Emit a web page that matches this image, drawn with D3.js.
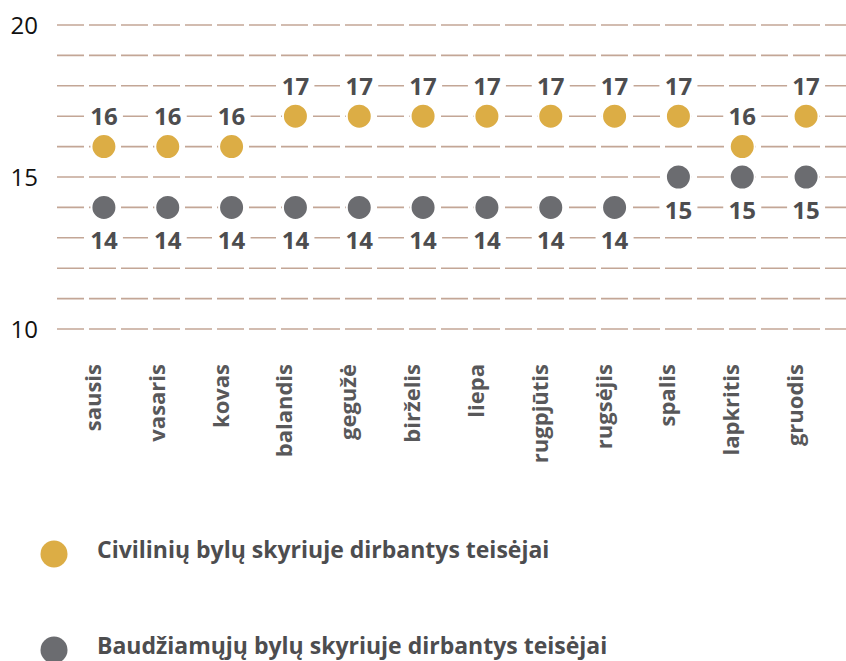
<!DOCTYPE html>
<html>
<head>
<meta charset="utf-8">
<script src="https://cdn.jsdelivr.net/npm/d3@7"></script>
<style>
  html, body { margin: 0; padding: 0; background: #fff; }
  svg { display: block; }
</style>
</head>
<body>
<div id="chart"></div>
<script>
const months = ['sausis', 'vasaris', 'kovas', 'balandis', 'gegužė', 'birželis',
  'liepa', 'rugpjūtis', 'rugsėjis', 'spalis', 'lapkritis', 'gruodis'];
const civil = [16, 16, 16, 17, 17, 17, 17, 17, 17, 17, 16, 17];
const criminal = [14, 14, 14, 14, 14, 14, 14, 14, 14, 15, 15, 15];
const yTicks = [10, 15, 20];
const seriesNames = ['Civilinių bylų skyriuje dirbantys teisėjai', 'Baudžiamųjų bylų skyriuje dirbantys teisėjai'];

const width = 846;
const height = 661;
const font = '"Open Sans", sans-serif';
const colors = ['#dcad45', '#6b6c70'];
const textColor = '#4d4d4f';

const svg = d3.select('#chart').append('svg')
  .attr('width', width)
  .attr('height', height);

const x = d3.scalePoint()
  .domain(months)
  .range([72, 838])
  .padding(0.5);

const y = d3.scaleLinear()
  .domain([10, 20])
  .range([329, 25]);

// dashed grid, one line per unit
svg.append('g')
  .selectAll('line')
  .data(d3.range(10, 21))
  .join('line')
    .attr('x1', 57)
    .attr('x2', width)
    .attr('y1', d => y(d))
    .attr('y2', d => y(d))
    .attr('stroke', '#c3a696')
    .attr('stroke-width', 1.6)
    .attr('stroke-dasharray', '27,5');

// y axis labels
svg.append('g')
  .selectAll('text')
  .data(yTicks)
  .join('text')
    .attr('x', 38)
    .attr('y', d => y(d))
    .attr('dy', '0.36em')
    .attr('text-anchor', 'end')
    .attr('font-family', font)
    .attr('font-size', 24)
    .attr('fill', '#111')
    .text(d => d);

// month labels
svg.append('g')
  .selectAll('text')
  .data(months)
  .join('text')
    .attr('transform', d => `translate(${x(d) - 3},364) rotate(-90)`)
    .attr('text-anchor', 'end')
    .attr('font-family', font)
    .attr('font-weight', 700)
    .attr('font-size', 22)
    .attr('fill', '#58585a')
    .text(d => d);

const series = [
  { values: civil, color: colors[0], offset: -30 },
  { values: criminal, color: colors[1], offset: 33 },
];

series.forEach(s => {
  const g = svg.append('g');
  const pts = months.map((m, i) => ({ m, v: s.values[i] }));

  g.selectAll('circle')
    .data(pts)
    .join('circle')
      .attr('cx', d => x(d.m))
      .attr('cy', d => y(d.v))
      .attr('r', 12.5)
      .attr('fill', s.color)
      .attr('stroke', '#fff')
      .attr('stroke-width', 2);

  const lbl = g.selectAll('g.lbl')
    .data(pts)
    .join('g')
      .attr('class', 'lbl')
      .attr('transform', d => `translate(${x(d.m)},${y(d.v) + s.offset})`);

  lbl.append('rect')
    .attr('x', -19)
    .attr('y', -10)
    .attr('width', 38)
    .attr('height', 20)
    .attr('fill', '#fff');

  lbl.append('text')
    .attr('text-anchor', 'middle')
    .attr('dy', '0.36em')
    .attr('font-family', font)
    .attr('font-weight', 700)
    .attr('font-size', 24)
    .attr('fill', textColor)
    .text(d => d.v);
});

// legend
const legend = svg.append('g')
  .selectAll('g')
  .data(seriesNames)
  .join('g')
    .attr('transform', (d, i) => `translate(0,${554 + i * 96})`);

legend.append('circle')
  .attr('cx', 54)
  .attr('cy', 0)
  .attr('r', 13.5)
  .attr('fill', (d, i) => colors[i]);

legend.append('text')
  .attr('x', 97)
  .attr('y', 4)
  .attr('font-family', font)
  .attr('font-weight', 700)
  .attr('font-size', 23)
  .attr('fill', textColor)
  .text(d => d);
</script>
</body>
</html>
